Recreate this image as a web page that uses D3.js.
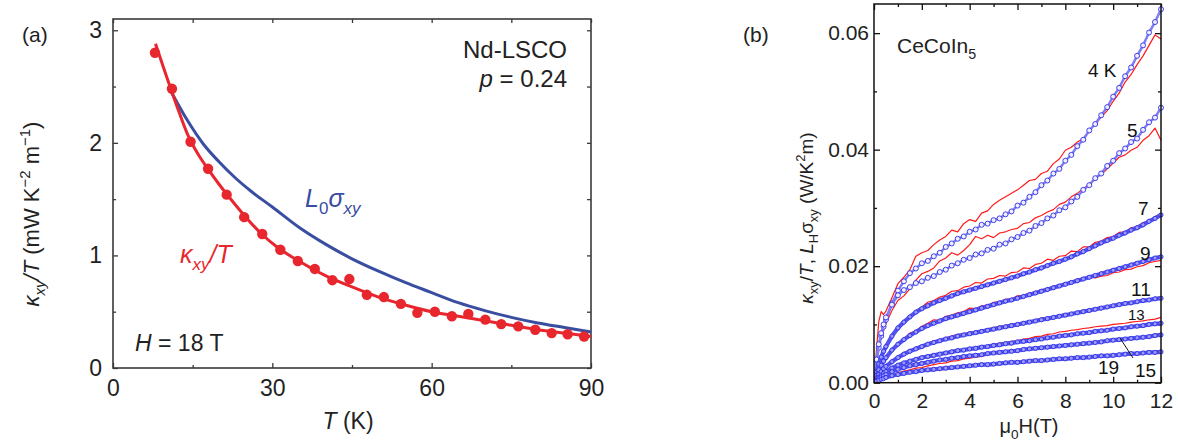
<!DOCTYPE html>
<html><head><meta charset="utf-8">
<script src="https://cdn.jsdelivr.net/npm/d3@7"></script>
<style>body{margin:0;background:#fff} text{font-family:"Liberation Sans",Arial,Helvetica,sans-serif}</style>
</head><body><svg id="c" width="1178" height="443"></svg>
<script>
// ---------- Panel (a) data ----------
const aXTicks = [0, 30, 60, 90];
const aYTicks = [0, 1, 2, 3];
const ptsT = [7.9, 11.1, 14.6, 17.9, 21.4, 24.7, 28.1, 31.5, 34.8, 38.0, 41.3, 44.5, 47.8, 51.0, 54.2, 57.3, 60.6, 63.8, 66.9, 70.1, 73.1, 76.3, 79.5, 82.6, 85.6, 88.7];
const ptsV = [2.80, 2.48, 2.01, 1.77, 1.54, 1.34, 1.19, 1.05, 0.95, 0.88, 0.78, 0.79, 0.65, 0.63, 0.57, 0.49, 0.50, 0.46, 0.48, 0.43, 0.39, 0.37, 0.34, 0.31, 0.30, 0.28];
const fitT = [8, 10, 12, 14, 16, 18, 20, 22, 25, 28, 31, 35, 40, 45, 50, 55, 60, 65, 70, 75, 80, 85, 90];
const fitV = [2.88, 2.60, 2.33, 2.08, 1.90, 1.76, 1.63, 1.51, 1.34, 1.19, 1.07, 0.95, 0.82, 0.72, 0.63, 0.56, 0.50, 0.46, 0.42, 0.38, 0.34, 0.31, 0.28];
const l0T = [11, 14, 17, 20, 23, 26, 30, 35, 40, 45, 50, 55, 60, 65, 70, 75, 80, 85, 90];
const l0V = [2.45, 2.20, 1.99, 1.83, 1.69, 1.57, 1.43, 1.25, 1.10, 0.97, 0.86, 0.76, 0.67, 0.58, 0.51, 0.45, 0.40, 0.36, 0.32];

// ---------- Panel (b) data ----------
const bXTicks = [0, 2, 4, 6, 8, 10, 12];
const bYTicks = [0, 0.02, 0.04, 0.06];
const fieldH = [0,0.1,0.2,0.3,0.4,0.5,0.75,1,1.25,1.5,1.75,2,2.25,2.5,2.75,3,3.25,3.5,3.75,4,4.25,4.5,4.75,5,5.25,5.5,5.75,6,6.25,6.5,6.75,7,7.25,7.5,7.75,8,8.25,8.5,8.75,9,9.25,9.5,9.75,10,10.25,10.5,10.75,11,11.25,11.5,11.75,12];
const temps = ["4", "5", "7", "9", "11", "13", "15", "19"];
const blue4 = [0,.0035,.0060,.0080,.0096,.0108,.0136,.0158,.0174,.0188,.0196,.0205,.0209,.0217,.0223,.0233,.0239,.0247,.0251,.0259,.0263,.0271,.0273,.0279,.0282,.0289,.0294,.0304,.0309,.0319,.0327,.0339,.0347,.0359,.0367,.0381,.0391,.0406,.0417,.0433,.0444,.0459,.0473,.0491,.0506,.0526,.0541,.0561,.0579,.0601,.0619,.0641];
const red4  = [0,.0055,.0105,.0122,.0117,.0123,.0146,.0170,.0181,.0194,.0217,.0223,.0227,.0237,.0245,.0251,.0262,.0259,.0273,.0280,.0277,.0291,.0295,.0306,.0313,.0319,.0325,.0331,.0339,.0347,.0349,.0359,.0363,.0376,.0384,.0399,.0404,.0413,.0419,.0433,.0443,.0456,.0467,.0483,.0497,.0516,.0529,.0546,.0561,.0579,.0597,.0590];
const blue5 = [0,.0040,.0066,.0085,.0100,.0112,.0134,.0150,.0159,.0164,.0171,.0174,.0180,.0183,.0190,.0194,.0201,.0205,.0211,.0214,.0220,.0222,.0228,.0230,.0237,.0239,.0246,.0250,.0257,.0261,.0269,.0274,.0282,.0287,.0296,.0301,.0311,.0319,.0331,.0339,.0351,.0359,.0372,.0381,.0394,.0402,.0413,.0419,.0434,.0447,.0455,.0472];
const red5  = [0,.0030,.0060,.0076,.0089,.0101,.0124,.0141,.0149,.0161,.0176,.0187,.0191,.0197,.0209,.0214,.0223,.0219,.0227,.0237,.0251,.0247,.0253,.0249,.0257,.0259,.0263,.0265,.0273,.0275,.0283,.0287,.0293,.0297,.0306,.0310,.0319,.0325,.0333,.0341,.0351,.0357,.0367,.0377,.0387,.0391,.0399,.0404,.0416,.0424,.0437,.0416];
const blue7 = [0,.0018,.0032,.0044,.0054,.0062,.0080,.0094,.0104,.0113,.0121,.0127,.0132,.0137,.0141,.0145,.0149,.0153,.0156,.0159,.0162,.0165,.0168,.0171,.0174,.0177,.0180,.0183,.0187,.0190,.0194,.0197,.0201,.0205,.0208,.0212,.0216,.0221,.0225,.0230,.0235,.0240,.0244,.0248,.0253,.0257,.0262,.0266,.0271,.0277,.0282,.0288];
const red7  = [0,.0015,.0030,.0042,.0052,.0061,.0079,.0093,.0101,.0115,.0124,.0130,.0138,.0141,.0147,.0150,.0157,.0158,.0164,.0166,.0172,.0171,.0178,.0179,.0184,.0183,.0189,.0190,.0197,.0196,.0203,.0205,.0212,.0210,.0217,.0218,.0226,.0225,.0233,.0233,.0241,.0243,.0249,.0251,.0258,.0259,.0266,.0268,.0275,.0278,.0285,.0289];
const blue9 = [0,.0012,.0022,.0030,.0037,.0043,.0056,.0066,.0074,.0081,.0087,.0093,.0098,.0102,.0106,.0110,.0113,.0116,.0119,.0122,.0125,.0128,.0131,.0134,.0137,.0140,.0142,.0145,.0148,.0151,.0154,.0157,.0160,.0163,.0166,.0169,.0172,.0175,.0178,.0181,.0184,.0187,.0190,.0193,.0196,.0199,.0202,.0205,.0208,.0211,.0214,.0216];
const red9  = [0,.0010,.0020,.0029,.0037,.0044,.0058,.0067,.0075,.0085,.0089,.0097,.0102,.0108,.0107,.0114,.0116,.0120,.0122,.0128,.0127,.0132,.0133,.0138,.0139,.0143,.0144,.0149,.0150,.0154,.0156,.0160,.0161,.0166,.0168,.0171,.0173,.0178,.0179,.0182,.0180,.0183,.0184,.0189,.0190,.0194,.0195,.0199,.0201,.0206,.0208,.0210];
const blue11 = [0,.0008,.0014,.0019,.0024,.0028,.0036,.0043,.0049,.0054,.0058,.0062,.0066,.0069,.0072,.0075,.0077,.0080,.0082,.0084,.0086,.0088,.0090,.0092,.0094,.0096,.0098,.0100,.0102,.0104,.0106,.0108,.0110,.0112,.0114,.0116,.0118,.0120,.0122,.0124,.0126,.0128,.0130,.0132,.0134,.0136,.0137,.0139,.0141,.0142,.0144,.0145];
const red11  = [0,.0007,.0013,.0019,.0025,.0029,.0038,.0044,.0052,.0055,.0061,.0064,.0068,.0072,.0074,.0077,.0080,.0083,.0083,.0087,.0088,.0090,.0093,.0094,.0097,.0098,.0101,.0102,.0104,.0106,.0108,.0111,.0112,.0114,.0116,.0118,.0119,.0122,.0124,.0126,.0128,.0130,.0131,.0134,.0135,.0137,.0139,.0140,.0143,.0143,.0146,.0147];
const blue13 = [0,.0005,.0009,.0013,.0016,.0019,.0025,.0030,.0034,.0037,.0040,.0043,.0045,.0047,.0049,.0051,.0053,.0055,.0056,.0058,.0059,.0061,.0062,.0064,.0065,.0067,.0068,.0070,.0071,.0072,.0074,.0075,.0077,.0078,.0080,.0081,.0082,.0084,.0085,.0086,.0088,.0089,.0090,.0092,.0093,.0094,.0096,.0097,.0098,.0100,.0101,.0102];
const red13  = [0,.0004,.0008,.0012,.0015,.0018,.0024,.0031,.0033,.0039,.0038,.0044,.0046,.0049,.0048,.0053,.0054,.0057,.0056,.0060,.0061,.0063,.0064,.0066,.0068,.0069,.0071,.0072,.0075,.0076,.0079,.0080,.0083,.0084,.0087,.0088,.0090,.0091,.0093,.0094,.0096,.0097,.0098,.0100,.0101,.0102,.0104,.0105,.0106,.0108,.0109,.0112];
const blue15 = [0,.0004,.0007,.0010,.0012,.0014,.0019,.0023,.0026,.0029,.0031,.0033,.0035,.0037,.0039,.0040,.0042,.0043,.0045,.0046,.0047,.0048,.0050,.0051,.0052,.0053,.0054,.0055,.0057,.0058,.0059,.0060,.0061,.0062,.0063,.0064,.0065,.0066,.0067,.0068,.0069,.0070,.0072,.0073,.0074,.0075,.0076,.0077,.0078,.0079,.0081,.0082];
const red15  = [0,.0003,.0005,.0007,.0009,.0010,.0014,.0017,.0020,.0022,.0025,.0026,.0029,.0031,.0033,.0034,.0037,.0038,.0041,.0042,.0044,.0045,.0048,.0049,.0051,.0052,.0054,.0054,.0057,.0057,.0059,.0060,.0061,.0062,.0063,.0064,.0065,.0066,.0067,.0068,.0069,.0070,.0071,.0073,.0074,.0075,.0076,.0077,.0078,.0079,.0080,.0082];
const blue19 = [0,.0002,.0004,.0006,.0007,.0009,.0012,.0014,.0016,.0018,.0019,.0021,.0022,.0023,.0024,.0025,.0026,.0027,.0028,.0029,.0030,.0031,.0031,.0032,.0033,.0034,.0035,.0035,.0036,.0037,.0038,.0038,.0039,.0040,.0041,.0041,.0042,.0043,.0043,.0044,.0045,.0046,.0046,.0047,.0048,.0049,.0050,.0050,.0051,.0052,.0052,.0053];
const red19  = [0,.0002,.0003,.0005,.0006,.0008,.0011,.0013,.0016,.0017,.0019,.0020,.0022,.0022,.0024,.0025,.0026,.0027,.0028,.0029,.0030,.0030,.0031,.0032,.0033,.0033,.0034,.0035,.0036,.0036,.0037,.0038,.0039,.0039,.0040,.0041,.0042,.0042,.0043,.0044,.0045,.0045,.0046,.0047,.0048,.0048,.0049,.0050,.0051,.0051,.0052,.0053];

const blueSeries = [blue4, blue5, blue7, blue9, blue11, blue13, blue15, blue19];
const redSeries = [red4, red5, red7, red9, red11, red13, red15, red19];

// ---------- helpers ----------
const svg = d3.select("#c");
svg.append("rect").attr("width",1178).attr("height",443).attr("fill","#fff");

function rich(sel, segs, size){
  let shift = 0;
  segs.forEach(s=>{
    const target = s.sub ? size*0.28 : (s.sup ? -size*0.42 : 0);
    const ts = sel.append("tspan").attr("dy", target - shift).text(s.t);
    shift = target;
    if (s.sub || s.sup) ts.attr("font-size", size*0.68);
    if (s.it) ts.attr("font-style","italic");
  });
  return sel;
}
function txt(x, y, size, fill, anchor){
  return svg.append("text").attr("x",x).attr("y",y).attr("font-size",size)
    .attr("fill",fill||"#222").attr("text-anchor",anchor||"start");
}
function styleAxis(g, color, fs){
  g.select(".domain").remove();
  g.selectAll(".tick line").attr("stroke", color).attr("stroke-width",1.3);
  g.selectAll(".tick text").attr("font-size", fs).attr("fill","#222")
    .attr("font-family",'"Liberation Sans",Arial,sans-serif');
}

// ================= Panel (a) =================
const ax = d3.scaleLinear().domain([0,90]).range([113,591]);
const ay = d3.scaleLinear().domain([0,3.1]).range([368,19]);
const aCol = "#3a3a3a";
const aMinX = [15,45,75], aMinY = [0.5,1.5,2.5];

let g;
g = svg.append("g").attr("transform","translate(0,368)")
  .call(d3.axisBottom(ax).tickValues(aXTicks).tickSize(-5).tickPadding(12).tickFormat(d3.format("d")));
styleAxis(g, aCol, 23);
g = svg.append("g").attr("transform","translate(0,368)")
  .call(d3.axisBottom(ax).tickValues(aMinX).tickSize(-3).tickFormat(""));
styleAxis(g, aCol, 23);
g = svg.append("g").attr("transform","translate(0,19)")
  .call(d3.axisTop(ax).tickValues(aXTicks.concat(aMinX)).tickSize(-4).tickFormat(""));
styleAxis(g, aCol, 23);
g = svg.append("g").attr("transform","translate(113,0)")
  .call(d3.axisLeft(ay).tickValues(aYTicks).tickSize(-5).tickPadding(11).tickFormat(d3.format("d")));
styleAxis(g, aCol, 23);
g = svg.append("g").attr("transform","translate(113,0)")
  .call(d3.axisLeft(ay).tickValues(aMinY).tickSize(-3).tickFormat(""));
styleAxis(g, aCol, 23);
g = svg.append("g").attr("transform","translate(591,0)")
  .call(d3.axisRight(ay).tickValues(aYTicks.concat(aMinY)).tickSize(-4).tickFormat(""));
styleAxis(g, aCol, 23);
svg.append("rect").attr("x",113).attr("y",19).attr("width",591-113).attr("height",368-19)
  .attr("fill","none").attr("stroke",aCol).attr("stroke-width",1.6);

const aRed = "#e8262d", aBlue = "#3a4ea1";
const lineA = d3.line().x(d=>ax(d[0])).y(d=>ay(d[1])).curve(d3.curveMonotoneX);
svg.append("path").attr("d", lineA(l0T.map((t,i)=>[t,l0V[i]])))
  .attr("fill","none").attr("stroke",aBlue).attr("stroke-width",3);
svg.append("path").attr("d", lineA(fitT.map((t,i)=>[t,fitV[i]])))
  .attr("fill","none").attr("stroke",aRed).attr("stroke-width",3);
svg.append("g").selectAll("circle").data(ptsT.map((t,i)=>[t,ptsV[i]])).join("circle")
  .attr("cx",d=>ax(d[0])).attr("cy",d=>ay(d[1])).attr("r",5.2).attr("fill",aRed);

// texts (a)
txt(22,42,21).text("(a)");
txt(567,58,24,"#222","end").text("Nd-LSCO");
rich(txt(567,87,24,"#222","end"), [{t:"p",it:true},{t:" = 0.24"}], 24);
rich(txt(135,351,23), [{t:"H",it:true},{t:" = 18 T"}], 23);
rich(txt(180,263,25,aRed), [{t:"κ",it:true},{t:"xy",sub:true,it:true},{t:"/",it:true},{t:"T",it:true}], 25);
rich(txt(305,207,25,aBlue), [{t:"L",it:true},{t:"0",sub:true},{t:"σ",it:true},{t:"xy",sub:true,it:true}], 25);
rich(txt(348,429,23,"#222","middle"), [{t:"T",it:true},{t:" (K)"}], 23);
rich(svg.append("text").attr("transform","translate(39,214) rotate(-90)").attr("font-size",22)
  .attr("fill","#222").attr("text-anchor","middle"),
  [{t:"κ",it:true},{t:"xy",sub:true,it:true},{t:"/",it:true},{t:"T",it:true},{t:" (mW K"},{t:"−2",sup:true},{t:" m"},{t:"−1",sup:true},{t:")"}], 22);

// ================= Panel (b) =================
const bx = d3.scaleLinear().domain([0,12]).range([874,1161]);
const by = d3.scaleLinear().domain([0,0.065]).range([382.7,4]);
const bCol = "#111";
const bMinX = [1,3,5,7,9,11], bMinY = [0.01,0.03,0.05];

g = svg.append("g").attr("transform","translate(0,382.7)")
  .call(d3.axisBottom(bx).tickValues(bXTicks).tickSize(-6).tickPadding(10).tickFormat(d3.format("d")));
styleAxis(g, bCol, 21);
g = svg.append("g").attr("transform","translate(0,382.7)")
  .call(d3.axisBottom(bx).tickValues(bMinX).tickSize(-3).tickFormat(""));
styleAxis(g, bCol, 21);
g = svg.append("g").attr("transform","translate(0,4)")
  .call(d3.axisTop(bx).tickValues(bXTicks).tickSize(-6).tickFormat(""));
styleAxis(g, bCol, 21);
g = svg.append("g").attr("transform","translate(0,4)")
  .call(d3.axisTop(bx).tickValues(bMinX).tickSize(-3).tickFormat(""));
styleAxis(g, bCol, 21);
g = svg.append("g").attr("transform","translate(874,0)")
  .call(d3.axisLeft(by).tickValues(bYTicks).tickSize(-6).tickPadding(5).tickFormat(d3.format(".2f")));
styleAxis(g, bCol, 21);
g = svg.append("g").attr("transform","translate(874,0)")
  .call(d3.axisLeft(by).tickValues(bMinY).tickSize(-3).tickFormat(""));
styleAxis(g, bCol, 21);
g = svg.append("g").attr("transform","translate(1161,0)")
  .call(d3.axisRight(by).tickValues(bYTicks).tickSize(-6).tickFormat(""));
styleAxis(g, bCol, 21);
g = svg.append("g").attr("transform","translate(1161,0)")
  .call(d3.axisRight(by).tickValues(bMinY).tickSize(-3).tickFormat(""));
styleAxis(g, bCol, 21);

svg.append("clipPath").attr("id","clipb").append("rect")
  .attr("x",874).attr("y",4).attr("width",1161-874+3).attr("height",382.7-4);
const plotB = svg.append("g").attr("clip-path","url(#clipb)");
const lineB = d3.line().x((d,i)=>bx(fieldH[i])).y(d=>by(d));
redSeries.forEach(s=>{
  plotB.append("path").attr("d", lineB(s)).attr("fill","none")
    .attr("stroke","#ff1a1a").attr("stroke-width",1.2).attr("stroke-linejoin","round");
});
blueSeries.forEach((s,k)=>{
  const sparse = k < 2;
  plotB.append("path").attr("d", lineB(s)).attr("fill","none")
    .attr("stroke", sparse ? "#7d7df5" : "#5252ee").attr("stroke-width", sparse ? 2.5 : 4.2);
  plotB.append("g").selectAll("circle").data(s).join("circle")
    .attr("cx",(d,i)=>bx(fieldH[i])).attr("cy",d=>by(d)).attr("r", sparse ? 2.5 : 2.1)
    .attr("fill", sparse ? "#eeeeff" : "#9c9cff").attr("stroke","#2c2ce8").attr("stroke-width",0.9);
});
svg.append("rect").attr("x",874).attr("y",4).attr("width",1161-874).attr("height",382.7-4)
  .attr("fill","none").attr("stroke",bCol).attr("stroke-width",1.5);

// texts (b)
txt(743,42,21).text("(b)");
rich(txt(897,53,21), [{t:"CeCoIn"},{t:"5",sub:true}], 21);
txt(1088,77,19,"#111").text(temps[0] + " K");
txt(1127,137,19,"#111").text(temps[1]);
txt(1138,215,19,"#111").text(temps[2]);
txt(1140,260,19,"#111").text(temps[3]);
txt(1131,296,19,"#111").text(temps[4]);
txt(1128,320,15,"#111").text(temps[5]);
txt(1135,377,19,"#111").text(temps[6]);
txt(1098,374,19,"#111").text(temps[7]);
svg.append("line").attr("x1",1120).attr("y1",338).attr("x2",1133).attr("y2",358)
  .attr("stroke","#111").attr("stroke-width",1);
rich(txt(1029,433,20,"#222","middle"), [{t:"μ"},{t:"0",sub:true},{t:"H(T)"}], 20);
rich(svg.append("text").attr("transform","translate(813,218) rotate(-90)").attr("font-size",19)
  .attr("fill","#222").attr("text-anchor","middle"),
  [{t:"κ",it:true},{t:"xy",sub:true},{t:"/"},{t:"T",it:true},{t:",  "},{t:"L",it:true},{t:"H",sub:true},{t:"σ"},{t:"xy",sub:true},{t:"  (W/K"},{t:"2",sup:true},{t:"m)"}], 19);
</script></body></html>
